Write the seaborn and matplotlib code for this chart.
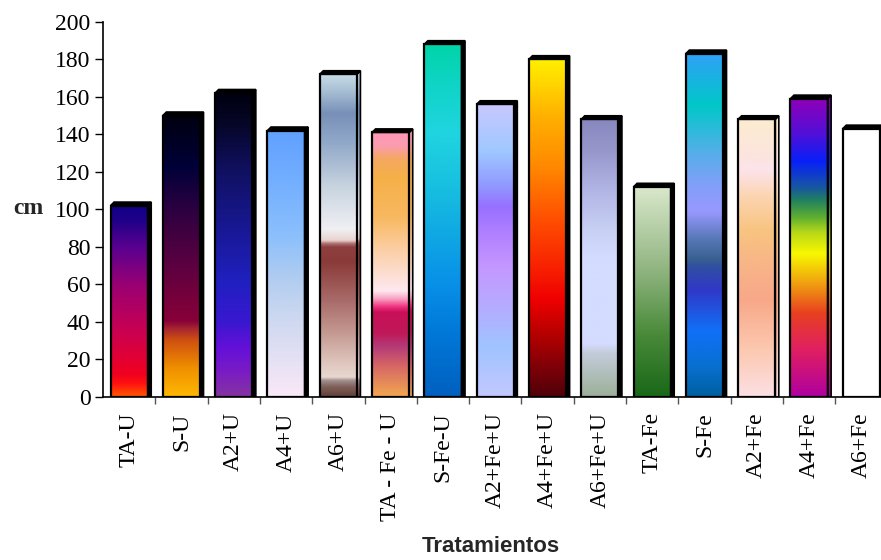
import numpy as np
import matplotlib
matplotlib.use("Agg")
import matplotlib.pyplot as plt
import pandas as pd
import seaborn as sns
from matplotlib.colors import LinearSegmentedColormap
from matplotlib.patches import Polygon

# Plant height per treatment (cm)
tratamientos = ["TA-U", "S-U", "A2+U", "A4+U", "A6+U", "TA - Fe - U", "S-Fe-U",
                "A2+Fe+U", "A4+Fe+U", "A6+Fe+U", "TA-Fe", "S-Fe", "A2+Fe",
                "A4+Fe", "A6+Fe"]
altura_cm = [102, 150, 162, 142, 172, 141, 188, 156, 180, 148, 112, 183, 148, 159, 143]
y_ticks = [0, 20, 40, 60, 80, 100, 120, 140, 160, 180, 200]

# Vertical gradient fills, listed bottom -> top as (position, colour)
fills = [
    [(0, "#ff5a00"), (0.07, "#ff1010"), (0.12, "#f00020"), (0.33, "#cc0050"),
     (0.58, "#9a0072"), (0.78, "#5a0090"), (0.92, "#200088"), (1, "#100088")],
    [(0, "#ffb800"), (0.1, "#f09000"), (0.2, "#d05010"), (0.24, "#a82830"),
     (0.27, "#880038"), (0.45, "#600040"), (0.68, "#280040"), (0.82, "#000038"),
     (1, "#000010")],
    [(0, "#8534a0"), (0.08, "#7a1cc4"), (0.16, "#6410d8"), (0.25, "#3818d0"),
     (0.38, "#2020c0"), (0.55, "#181895"), (0.75, "#101060"), (0.9, "#060628"),
     (1, "#000010")],
    [(0, "#fae8f8"), (0.15, "#e4e0f4"), (0.3, "#ccd8f0"), (0.45, "#b0ccf0"),
     (0.6, "#8cc0fc"), (0.8, "#74b0ff"), (1, "#60a0ff")],
    [(0, "#604038"), (0.03, "#806058"), (0.05, "#a09090"), (0.06, "#e8d8d0"),
     (0.1, "#e0c8c0"), (0.2, "#c49890"), (0.3, "#a86a68"), (0.42, "#8a3a38"),
     (0.465, "#8e4040"), (0.475, "#b07070"), (0.485, "#e8d4d0"), (0.52, "#f0f0f4"),
     (0.65, "#c8d4e0"), (0.79, "#90a8c8"), (0.88, "#7890b8"), (0.95, "#a8c0d4"),
     (1, "#c8dce8")],
    [(0, "#f2a850"), (0.11, "#d86a64"), (0.19, "#b43a78"), (0.24, "#c01858"),
     (0.32, "#c81058"), (0.34, "#f03080"), (0.37, "#f8a0c0"), (0.4, "#ffe8f0"),
     (0.45, "#fce0d8"), (0.55, "#fcd0a8"), (0.68, "#f8b860"), (0.83, "#f5b048"),
     (0.9, "#f4a860"), (0.95, "#fc9cb0"), (1, "#ff98b8")],
    [(0, "#0060c0"), (0.18, "#0078d8"), (0.32, "#0890e8"), (0.46, "#10a8e4"),
     (0.6, "#18c0e0"), (0.75, "#20d4e0"), (0.88, "#10d4c8"), (1, "#00d4a8")],
    [(0, "#c4c8ff"), (0.17, "#a0c4ff"), (0.33, "#b8a8ff"), (0.44, "#c498ff"),
     (0.56, "#b080ff"), (0.65, "#9870ff"), (0.72, "#9098ff"), (0.84, "#a0c8ff"),
     (1, "#c8c8ff")],
    [(0, "#500008"), (0.09, "#800008"), (0.19, "#b80000"), (0.29, "#f00000"),
     (0.38, "#f82000"), (0.53, "#ff5000"), (0.68, "#ff8800"), (0.83, "#ffb000"),
     (1, "#fff000")],
    [(0, "#9cb098"), (0.16, "#c4ccdc"), (0.19, "#d4dcff"), (0.5, "#d4dcff"),
     (0.6, "#c8d0f4"), (0.75, "#b0b4e4"), (0.88, "#9898cc"), (1, "#8888c0")],
    [(0, "#186818"), (0.3, "#4a8a3a"), (0.6, "#90b480"), (1, "#dae8cc")],
    [(0, "#0060a0"), (0.09, "#0870d0"), (0.19, "#1070f8"), (0.31, "#3038c8"),
     (0.38, "#3050a0"), (0.4, "#386090"), (0.46, "#5878b8"), (0.54, "#9898ff"),
     (0.62, "#80a0f8"), (0.72, "#50b0e8"), (0.85, "#00c8c8"), (1, "#30a0f8")],
    [(0, "#fce0e4"), (0.17, "#fcc8b0"), (0.35, "#f8a888"), (0.47, "#f8b488"),
     (0.6, "#f8c480"), (0.72, "#fcd4b0"), (0.82, "#fce4ec"), (0.86, "#fce4e0"),
     (1, "#fcecd0")],
    [(0, "#b000a0"), (0.16, "#e02060"), (0.28, "#e84020"), (0.38, "#f0a010"),
     (0.48, "#f8f800"), (0.55, "#b8d818"), (0.6, "#60b030"), (0.66, "#208060"),
     (0.7, "#1858a0"), (0.79, "#0820f8"), (0.88, "#5010d8"), (1, "#9000b8")],
    [(0, "#ffffff"), (1, "#ffffff")],
]
# Bars whose side face keeps the gradient instead of a dark shade
gradient_sides = {4, 5, 12, 13}

sns.set_theme(style="ticks")
plt.rcParams["font.family"] = ["Liberation Serif", "DejaVu Serif"]

W, H = 881, 560
fig = plt.figure(figsize=(W / 100, H / 100), dpi=100)
ax_left, ax_bottom, ax_w, ax_h = 103, 397, 784.5, 375.3
ax = fig.add_axes([ax_left / W, 1 - ax_bottom / H, ax_w / W, ax_h / H])

df = pd.DataFrame({"tratamiento": tratamientos, "altura": altura_cm})
sns.barplot(data=df, x="tratamiento", y="altura", width=0.71, color="white",
            saturation=1, ax=ax, zorder=2)

n = len(tratamientos)
xmin, xmax, ymin, ymax = -0.5, n - 0.5, 0, 200

# depth of the 3-D look, in pixels converted to data units
depth_px = 3.5
dx = depth_px * (xmax - xmin) / ax_w
dy = depth_px * (ymax - ymin) / ax_h

grad = np.linspace(0, 1, 512).reshape(-1, 1)
for i, patch in enumerate(ax.patches[:n]):
    x0, w, h = patch.get_x(), patch.get_width(), patch.get_height()
    x1 = x0 + w
    cmap = LinearSegmentedColormap.from_list(f"fill{i}", fills[i])
    im = ax.imshow(grad, cmap=cmap, extent=[x0, x1, 0, h], origin="lower",
                   aspect="auto", interpolation="bilinear", zorder=3)
    im.set_clip_path(patch)
    patch.set_facecolor("none")
    patch.set_edgecolor("black")
    patch.set_linewidth(1.6)
    patch.set_zorder(5)

    side = Polygon([(x1, 0), (x1 + dx, 0), (x1 + dx, h + dy), (x1, h)],
                   closed=True, edgecolor="black", linewidth=1.2, zorder=4,
                   facecolor="none" if i in gradient_sides else "black")
    ax.add_patch(side)
    if i in gradient_sides:
        im2 = ax.imshow(grad, cmap=cmap, extent=[x1, x1 + dx, 0, h + dy],
                        origin="lower", aspect="auto", interpolation="bilinear",
                        zorder=3)
        im2.set_clip_path(side)
    top = Polygon([(x0, h), (x0 + dx, h + dy), (x1 + dx, h + dy), (x1, h)],
                  closed=True, facecolor="black", edgecolor="black",
                  linewidth=1.2, zorder=5)
    ax.add_patch(top)

ax.set_xlim(xmin, xmax)
ax.set_ylim(ymin, ymax)

for s in ("top", "right"):
    ax.spines[s].set_visible(False)
for s in ("left", "bottom"):
    ax.spines[s].set_color("black")
    ax.spines[s].set_linewidth(1.2)
    ax.spines[s].set_zorder(6)

ax.set_yticks(y_ticks)
ax.tick_params(axis="y", direction="out", length=6, width=1, colors="black",
               labelsize=17, pad=3, left=True)
ax.set_xticks(range(n), labels=tratamientos)
ax.tick_params(axis="x", which="major", length=0, pad=11, labelsize=17,
               labelrotation=90, labelcolor="black")
ax.set_xticks(np.arange(0.5, n - 0.5, 1), minor=True)
ax.tick_params(axis="x", which="minor", direction="out", length=5, width=1,
               color="#555555", bottom=True)
ax.set_xlabel("")
ax.set_ylabel("")
ax.grid(False)

fig.text(28 / W, 1 - 209 / H, "cm", fontsize=17, fontweight="bold",
         ha="center", va="center")
fig.text(491 / W, 1 - 547 / H, "Tratamientos", fontsize=16, fontweight="bold",
         family=["Liberation Sans", "DejaVu Sans"], ha="center", va="center")

fig.savefig("out.png", dpi=100, facecolor="white")
